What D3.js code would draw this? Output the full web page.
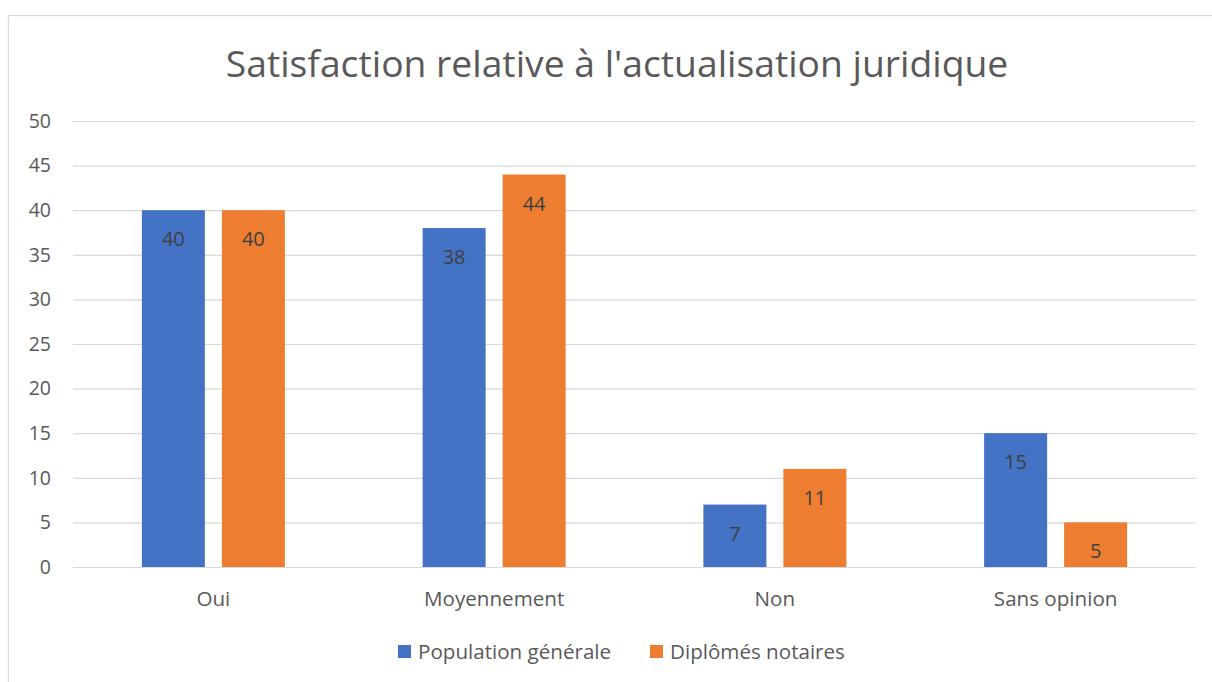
<!DOCTYPE html>
<html><head><meta charset="utf-8">
<script src="https://cdn.jsdelivr.net/npm/d3@7"></script>
<style>body{margin:0;background:#fff}svg{display:block}text{font-family:"Open Sans","Noto Sans",sans-serif}</style>
</head><body>
<script>
const categories = ["Oui", "Moyennement", "Non", "Sans opinion"];
const seriesNames = ["Population générale", "Diplômés notaires"];
const populationGenerale = [40, 38, 7, 15];
const diplomesNotaires = [40, 44, 11, 5];
const yTicks = [0, 5, 10, 15, 20, 25, 30, 35, 40, 45, 50];
const colors = ["#4472C4", "#ED7D31"];

const W = 1212, H = 682;
const FS = 20.6;
const svg = d3.select("body").append("svg").attr("width", W).attr("height", H);
svg.append("rect").attr("x", 8.5).attr("y", 15.5).attr("width", W + 10).attr("height", H + 10)
  .attr("fill", "#fff").attr("stroke", "#d9d9d9").attr("stroke-width", 1.3);

const m = {left: 73, right: 1196, top: 121, bottom: 567};
const x0 = d3.scaleBand().domain(categories).range([m.left, m.right]).padding(0);
const groupW = 143;
const x1 = d3.scaleBand().domain(seriesNames).range([0, groupW]).paddingInner(0.2125).paddingOuter(0);
const y = d3.scaleLinear().domain([0, 50]).range([m.bottom, m.top]);

// gridlines
const grid = d3.axisLeft(y).tickValues(yTicks).tickSize(-(m.right - m.left)).tickFormat("");
const gg = svg.append("g").attr("transform", `translate(${m.left},0)`).call(grid);
gg.select(".domain").remove();
gg.selectAll("line").attr("stroke", "#d9d9d9").attr("stroke-width", 1.2);

// y labels
const ya = svg.append("g").attr("transform", `translate(${m.left},0)`)
  .call(d3.axisLeft(y).tickValues(yTicks).tickSize(0).tickPadding(22));
ya.select(".domain").remove();
ya.selectAll("text").attr("font-size", 19.5).attr("fill", "#595959").attr("font-family", "Open Sans");

// x labels
const xa = svg.append("g").attr("transform", `translate(0,${m.bottom})`)
  .call(d3.axisBottom(x0).tickSize(0).tickPadding(24));
xa.select(".domain").remove();
xa.selectAll("text").attr("font-size", FS).attr("fill", "#595959").attr("font-family", "Open Sans");

const data = categories.map((c, i) => ({cat: c, vals: [
  {s: seriesNames[0], v: populationGenerale[i], c: colors[0]},
  {s: seriesNames[1], v: diplomesNotaires[i], c: colors[1]}]}));

const groups = svg.append("g").selectAll("g").data(data).join("g")
  .attr("transform", d => `translate(${x0(d.cat) + (x0.bandwidth() - groupW) / 2},0)`);
groups.selectAll("rect").data(d => d.vals).join("rect")
  .attr("x", d => x1(d.s)).attr("width", x1.bandwidth())
  .attr("y", d => y(d.v)).attr("height", d => y(0) - y(d.v)).attr("fill", d => d.c);
groups.selectAll("text").data(d => d.vals).join("text")
  .attr("x", d => x1(d.s) + x1.bandwidth() / 2).attr("y", d => y(d.v) + 36)
  .attr("text-anchor", "middle").attr("font-size", 20).attr("fill", "#404040").text(d => d.v);

// title
const title = svg.append("text").attr("x", 617).attr("y", 77).attr("text-anchor", "middle")
  .attr("fill", "#595959").attr("font-size", 37).text("Satisfaction relative à l'actualisation juridique");
const tw = title.node().getComputedTextLength();
title.attr("font-size", 37 * 783 / tw);

// legend
const legX = [398, 650];
const lg = svg.append("g").selectAll("g").data(seriesNames).join("g")
  .attr("transform", (d, i) => `translate(${legX[i]},645)`);
lg.append("rect").attr("width", 13).attr("height", 13).attr("fill", (d, i) => colors[i]);
lg.append("text").attr("x", 20).attr("y", 14).attr("font-size", FS).attr("fill", "#595959").text(d => d);
</script>
</body></html>
